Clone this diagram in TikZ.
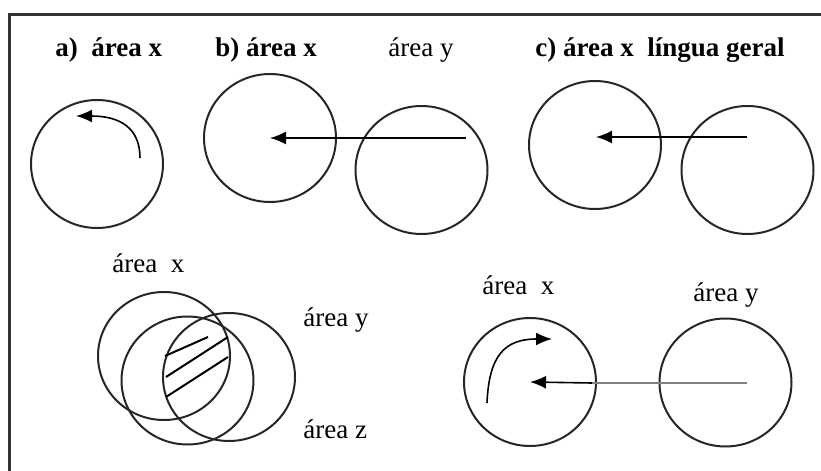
\documentclass[tikz,border=0pt]{standalone}
\usepackage{fontspec}
\setmainfont{Liberation Serif}
\usetikzlibrary{arrows.meta}
\usetikzlibrary{shapes.geometric}

\begin{document}
\begin{tikzpicture}[x=0.5pt,y=-0.5pt,
	area/.style={ellipse,draw=black!85,line width=1pt,minimum width=66pt,minimum height=64pt,inner sep=0pt},
	arr/.style={line width=0.8pt,-{Latex[length=8pt,width=6.5pt]}},
	lbl/.style={anchor=base west,inner sep=0pt,font=\fontsize{13.5}{16}\selectfont},
	lblb/.style={lbl,font=\fontsize{13.5}{16}\selectfont\bfseries}]
	\useasboundingbox (0,0) rectangle (821,471);
	\draw[line width=1.5pt,black!80] (9,471) -- (9,14) -- (821,14);
	\node[lblb] (la) at (55,56) {a)\ \ área x};
	\node[lblb] (lb) at (215,56) {b) área x};
	\node[lbl] (lby) at (388,56) {área y};
	\node[lblb] (lc) at (535,56) {c) área x\ \ língua geral};
	\node[area] (a1) at (97,164) {};
	\node[area] (b1) at (270,138) {};
	\node[area] (b2) at (421.5,170) {};
	\node[area] (c1) at (595,145) {};
	\node[area] (c2) at (747.5,170) {};
	\coordinate (a0) at (140,158);
	\coordinate (a9) at (76,116);
	\draw[arr] (a0) .. controls (140,128) and (120,116) .. (a9);
	\coordinate (b0) at (466,138);
	\draw[arr] (b0) -- (b1.center);
	\coordinate (c0) at (747,137);
	\coordinate (c9) at (596,137);
	\draw[arr] (c0) -- (c9);
	\node[lbl] (ldx) at (112,272) {área\ \ x};
	\node[lbl] (ldy) at (303,326) {área y};
	\node[lbl] (ldz) at (303,438) {área z};
	\node[area] (d1) at (164,356) {};
	\node[area] (d2) at (187.5,380.5) {};
	\node[area] (d3) at (229,377) {};
	\draw[line width=1pt] (165,356) -- (208,337);
	\draw[line width=1pt] (166,377) -- (228,337);
	\draw[line width=1pt] (166,397) -- (228,357);
	\node[lbl] (lex) at (482,294) {área\ \ x};
	\node[lbl] (ley) at (693,301) {área y};
	\node[area] (e1) at (530,382) {};
	\node[area] (e2) at (725.5,382.5) {};
	\coordinate (e0) at (747,383);
	\coordinate (e5) at (592,383);
	\draw[line width=0.8pt,gray] (e0) -- (e5);
	\draw[arr] (e5) -- (e1.center);
	\coordinate (e6) at (487,403);
	\coordinate (e7) at (552,339);
	\draw[arr] (e6) .. controls (489,355) and (505,339) .. (e7);
\end{tikzpicture}
\end{document}
